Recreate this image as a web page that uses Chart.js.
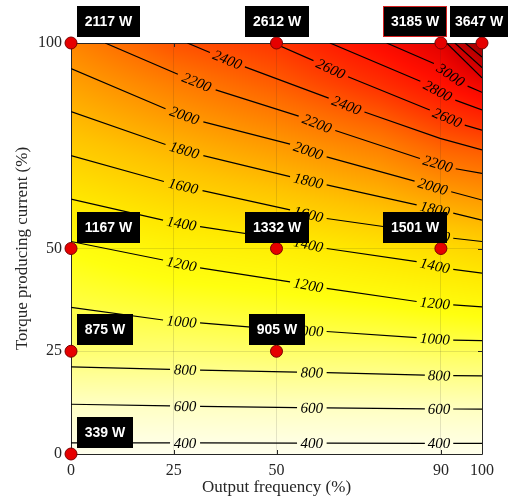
<!DOCTYPE html>
<html>
<head>
<meta charset="utf-8">
<script src="https://cdn.jsdelivr.net/npm/chart.js@4.4.1/dist/chart.umd.min.js"></script>
<style>
  html, body { margin: 0; padding: 0; background: #fff; }
  #wrap { width: 511px; height: 501px; }
</style>
</head>
<body>
<div id="wrap"><canvas id="lossMap"></canvas></div>
<script>
// measured operating points (datatips)
const freqPct = [0, 0, 0, 0, 50, 50, 50, 90, 90, 100];
const torquePct = [0, 25, 50, 100, 25, 50, 100, 50, 100, 100];
const lossW = [339, 875, 1167, 2117, 905, 1332, 2612, 1501, 3185, 3647];
const tipSide = ["right", "right", "right", "right", "center", "center", "center", "left", "left", "center"];
const selectedTip = 8;

const xTicks = [0, 25, 50, 90, 100];
const yTicks = [0, 25, 50, 100];

// loss surface (W), rows = torque, cols = frequency
const gridFreq = [0, 25, 50, 75, 90, 100];
const gridTorque = [0, 10, 25, 50, 75, 90, 100];
const gridLoss = [
  [339, 342, 345, 350, 355, 355],
  [555, 560, 575, 580, 585, 590],
  [875, 875, 905, 915, 940, 950],
  [1167, 1280, 1332, 1435, 1501, 1555],
  [1645, 1810, 1975, 2155, 2355, 2420],
  [1927, 2165, 2375, 2660, 2885, 3070],
  [2117, 2440, 2612, 2950, 3185, 3647],
];

// traced contour lines, one list of segments per level; the gaps hold the labels
const c400 = [[[0, 2.7], [24.1, 2.7]], [[31.4, 2.7], [55, 2.65]], [[62.2, 2.65], [86.1, 2.6]], [[93, 2.6], [100, 2.6]]];
const c600 = [[[0, 12.1], [24.1, 11.7]], [[31.4, 11.6], [55, 11.3]], [[62.2, 11.2], [86.1, 11.0]], [[93, 10.95], [100, 10.9]]];
const c800 = [[[0, 21.2], [24.1, 20.6]], [[31.4, 20.4], [55, 19.9]], [[62.2, 19.8], [86.1, 19.2]], [[93, 19.05], [100, 19.0]]];
const c1000 = [[[0, 35.7], [22.4, 32.6]], [[31.4, 31.9], [53.3, 30.1]], [[62.2, 29.8], [84.1, 28.3]], [[93, 27.7], [100, 27.6]]];
const c1200 = [[[0, 51.7], [22.4, 47.2]], [[31.4, 45.3], [53.3, 41.9]], [[62.2, 40.3], [84.1, 37.1]], [[93, 36.3], [100, 35.8]]];
const c1400 = [[[0, 62], [22.4, 56.9]], [[31.4, 55.3], [53.3, 52]], [[62.2, 50], [84.1, 46.8]], [[93, 44.9], [100, 44]]];
const c1600 = [[[0, 72.6], [22.6, 66.3]], [[32, 64.1], [53.3, 59.4]], [[62.2, 57.3], [84.1, 54.2]], [[93, 52.5], [100, 51.7]]];
const c1800 = [[[0, 83.3], [23, 75.3]], [[32.2, 72.6], [53.3, 67.5]], [[62.2, 65.5], [84.1, 60.6]], [[93, 58.6], [100, 56.9]]];
const c2000 = [[[0, 93.8], [23, 84.0]], [[32.2, 80.8], [53.3, 75.4]], [[62.2, 72.3], [83.6, 66.4]], [[92.5, 63.8], [100, 61.8]]];
const c2200 = [[[8.3, 100], [26, 92.4]], [[35.2, 88.6], [55.4, 82.2]], [[64.3, 78.7], [84.9, 71.9]], [[93.6, 69.4], [100, 68.3]]];
const c2400 = [[[28.3, 100], [33.8, 97.7]], [[42.3, 94.2], [62.7, 86.6]], [[71.4, 83.2], [89.8, 76.8], [100, 74]]];
const c2600 = [[[49.2, 100], [59, 95.7]], [[67.4, 91.8], [87.3, 83.7]], [[95.8, 80], [100, 78.8]]];
const c2800 = [[[63, 100], [85, 90.7]], [[93.5, 86.1], [100, 83.7]]];
const c3000 = [[[76.8, 100], [88.3, 95]], [[96.5, 89.5], [100, 88]]];
const c3200 = [[[91.4, 100], [100, 91.5]]];
const c3400 = [[[93.4, 100], [100, 94]]];
const c3600 = [[[95.9, 100], [100, 96.6]]];

const contourLevels = [400, 600, 800, 1000, 1200, 1400, 1600, 1800, 2000, 2200, 2400, 2600, 2800, 3000, 3200, 3400, 3600];
const contourPaths = [c400, c600, c800, c1000, c1200, c1400, c1600, c1800, c2000, c2200, c2400, c2600, c2800, c3000, c3200, c3400, c3600];

// white -> yellow -> orange -> red -> dark red
const heatStops = [
  [300, 255, 255, 245],
  [600, 255, 255, 195],
  [900, 255, 255, 105],
  [1150, 255, 255, 15],
  [1400, 255, 232, 0],
  [1700, 255, 195, 0],
  [2000, 255, 150, 0],
  [2300, 255, 105, 0],
  [2600, 255, 55, 0],
  [2900, 255, 15, 0],
  [3200, 225, 0, 0],
  [3700, 145, 0, 0],
];

const axisColor = "#262626";
const serif = "'Liberation Serif', 'Times New Roman', serif";

function segIndex(arr, v) {
  for (let k = 0; k < arr.length - 2; k++) if (v < arr[k + 1]) return k;
  return arr.length - 2;
}

function lossAt(fx, tq) {
  const i = segIndex(gridFreq, fx), j = segIndex(gridTorque, tq);
  const tx = Math.min(1, Math.max(0, (fx - gridFreq[i]) / (gridFreq[i + 1] - gridFreq[i])));
  const ty = Math.min(1, Math.max(0, (tq - gridTorque[j]) / (gridTorque[j + 1] - gridTorque[j])));
  const a = gridLoss[j][i], b = gridLoss[j][i + 1];
  const c = gridLoss[j + 1][i], d = gridLoss[j + 1][i + 1];
  return a * (1 - tx) * (1 - ty) + b * tx * (1 - ty) + c * (1 - tx) * ty + d * tx * ty;
}

function heatColor(v) {
  if (v <= heatStops[0][0]) return heatStops[0].slice(1);
  for (let k = 0; k < heatStops.length - 1; k++) {
    const s0 = heatStops[k], s1 = heatStops[k + 1];
    if (v <= s1[0]) {
      const t = (v - s0[0]) / (s1[0] - s0[0]);
      return [1, 2, 3].map((n) => s0[n] + (s1[n] - s0[n]) * t);
    }
  }
  return heatStops[heatStops.length - 1].slice(1);
}

// color map painted under the grid
const heatmapPlugin = {
  id: "heatmap",
  beforeDraw(chart) {
    const { ctx, chartArea: area, scales } = chart;
    const w = Math.round(area.right - area.left), h = Math.round(area.bottom - area.top);
    const off = document.createElement("canvas");
    off.width = w;
    off.height = h;
    const octx = off.getContext("2d");
    const img = octx.createImageData(w, h);
    for (let py = 0; py < h; py++) {
      const tq = scales.y.getValueForPixel(area.top + py + 0.5);
      for (let px = 0; px < w; px++) {
        const fx = scales.x.getValueForPixel(area.left + px + 0.5);
        const [r, g, b] = heatColor(lossAt(fx, tq));
        const o = (py * w + px) * 4;
        img.data[o] = r;
        img.data[o + 1] = g;
        img.data[o + 2] = b;
        img.data[o + 3] = 255;
      }
    }
    octx.putImageData(img, 0, 0);
    ctx.drawImage(off, area.left, area.top);
  },
};

// box frame with inward ticks on all four sides
const framePlugin = {
  id: "frame",
  beforeDatasetsDraw(chart) {
    const { ctx, chartArea: a, scales } = chart;
    ctx.save();
    ctx.strokeStyle = axisColor;
    ctx.lineWidth = 1;
    ctx.beginPath();
    ctx.rect(Math.round(a.left) + 0.5, Math.round(a.top) + 0.5, Math.round(a.right - a.left), Math.round(a.bottom - a.top));
    xTicks.forEach((v) => {
      const px = Math.round(scales.x.getPixelForValue(v)) + 0.5;
      ctx.moveTo(px, a.bottom); ctx.lineTo(px, a.bottom - 4);
      ctx.moveTo(px, a.top); ctx.lineTo(px, a.top + 4);
    });
    yTicks.forEach((v) => {
      const py = Math.round(scales.y.getPixelForValue(v)) + 0.5;
      ctx.moveTo(a.left, py); ctx.lineTo(a.left + 4, py);
      ctx.moveTo(a.right, py); ctx.lineTo(a.right - 4, py);
    });
    ctx.stroke();
    ctx.restore();
  },
};

// inline contour labels and black datatips
const labelPlugin = {
  id: "labels",
  afterDatasetsDraw(chart) {
    const { ctx, scales } = chart;
    const X = (v) => scales.x.getPixelForValue(v);
    const Y = (v) => scales.y.getPixelForValue(v);

    ctx.save();
    ctx.font = "italic 15px " + serif;
    ctx.fillStyle = "#000";
    ctx.textAlign = "center";
    ctx.textBaseline = "middle";
    contourPaths.forEach((segs, li) => {
      for (let s = 0; s < segs.length - 1; s++) {
        const p = segs[s][segs[s].length - 1], q = segs[s + 1][0];
        const x1 = X(p[0]), y1 = Y(p[1]), x2 = X(q[0]), y2 = Y(q[1]);
        ctx.save();
        ctx.translate((x1 + x2) / 2, (y1 + y2) / 2);
        ctx.rotate(Math.atan2(y2 - y1, x2 - x1));
        ctx.fillText(String(contourLevels[li]), 0, 1);
        ctx.restore();
      }
    });
    ctx.restore();

    ctx.save();
    ctx.font = "bold 14px 'Liberation Sans', Arial, sans-serif";
    ctx.textBaseline = "middle";
    ctx.textAlign = "center";
    lossW.forEach((w, i) => {
      const text = w + " W";
      let bw = Math.round(ctx.measureText(text).width) + 16;
      const bh = 31;
      const px = X(freqPct[i]), py = Y(torquePct[i]);
      let left;
      if (tipSide[i] === "right") left = px + 6;
      else if (tipSide[i] === "left") left = px + 6 - bw;
      else left = px - bw / 2;
      left = Math.round(left);
      bw = Math.min(bw, chart.width - 3 - left);
      const top = Math.round(py - 6 - bh);
      ctx.fillStyle = "#000";
      ctx.fillRect(left, top, bw, bh);
      if (i === selectedTip) {
        ctx.strokeStyle = "#d42020";
        ctx.lineWidth = 1;
        ctx.strokeRect(left + 0.5, top + 0.5, bw - 1, bh - 1);
      }
      ctx.fillStyle = "#fff";
      ctx.fillText(text, left + bw / 2, top + bh / 2 + 1);
    });
    ctx.restore();
  },
};

const contourDatasets = contourPaths.map((segs, li) => {
  const data = [];
  segs.forEach((seg, s) => {
    if (s > 0) data.push({ x: (seg[0][0] + segs[s - 1][segs[s - 1].length - 1][0]) / 2, y: null });
    seg.forEach(([x, y]) => data.push({ x, y }));
  });
  return {
    label: contourLevels[li] + " W",
    data,
    showLine: true,
    spanGaps: false,
    borderColor: "#000",
    borderWidth: 1.2,
    pointRadius: 0,
    order: 1,
  };
});

new Chart(document.getElementById("lossMap"), {
  type: "scatter",
  data: {
    datasets: [
      ...contourDatasets,
      {
        label: "Measured loss",
        data: freqPct.map((x, i) => ({ x, y: torquePct[i] })),
        backgroundColor: "#e60000",
        borderColor: "#7a0000",
        borderWidth: 1,
        pointRadius: 6,
        clip: false,
        order: 0,
      },
    ],
  },
  options: {
    responsive: true,
    maintainAspectRatio: false,
    animation: false,
    layout: { padding: { left: 0, right: 29, top: 43, bottom: 0 } },
    plugins: { legend: { display: false }, tooltip: { enabled: false } },
    scales: {
      x: {
        type: "linear",
        min: 0,
        max: 100,
        afterBuildTicks: (s) => { s.ticks = xTicks.map((v) => ({ value: v })); },
        afterFit: (s) => { s.height = 47; },
        ticks: { color: axisColor, font: { family: serif, size: 16 }, padding: 7, maxRotation: 0 },
        grid: { color: "rgba(40,40,40,0.13)", drawTicks: false },
        border: { display: false },
        title: { display: true, text: "Output frequency (%)", color: axisColor, font: { family: serif, size: 17 }, padding: { top: 0, bottom: 3 } },
      },
      y: {
        type: "linear",
        min: 0,
        max: 100,
        afterBuildTicks: (s) => { s.ticks = yTicks.map((v) => ({ value: v })); },
        afterFit: (s) => { s.width = 71; },
        ticks: { color: axisColor, font: { family: serif, size: 16 }, padding: 9 },
        grid: { color: "rgba(40,40,40,0.13)", drawTicks: false },
        border: { display: false },
        title: { display: true, text: "Torque producing current (%)", color: axisColor, font: { family: serif, size: 17 }, padding: { top: 12, bottom: 0 } },
      },
    },
  },
  plugins: [heatmapPlugin, framePlugin, labelPlugin],
});
</script>
</body>
</html>
